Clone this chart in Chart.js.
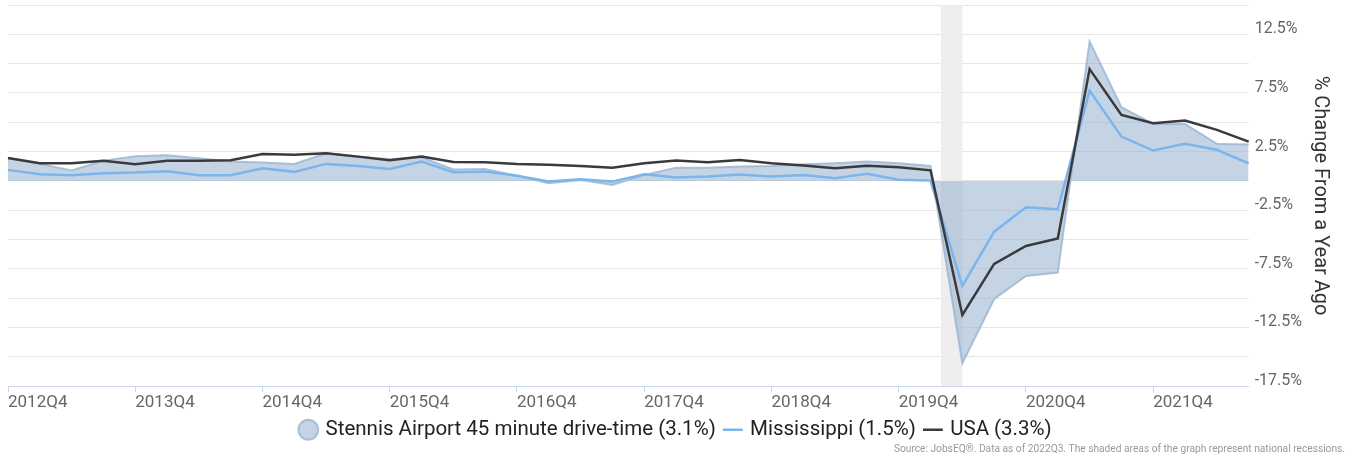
<!DOCTYPE html>
<html>
<head>
<meta charset="utf-8">
<script src="https://cdn.jsdelivr.net/npm/chart.js@4/dist/chart.umd.min.js"></script>
<style>
  html, body { margin: 0; padding: 0; background: #fff; }
  #wrap { width: 1348px; height: 458px; position: relative; }
</style>
</head>
<body>
<div id="wrap"><canvas id="chart-area"></canvas></div>
<script>
// quarters 2012Q4 .. 2022Q3
var quarters = [
  '2012Q4','2013Q1','2013Q2','2013Q3','2013Q4','2014Q1','2014Q2','2014Q3',
  '2014Q4','2015Q1','2015Q2','2015Q3','2015Q4','2016Q1','2016Q2','2016Q3',
  '2016Q4','2017Q1','2017Q2','2017Q3','2017Q4','2018Q1','2018Q2','2018Q3',
  '2018Q4','2019Q1','2019Q2','2019Q3','2019Q4','2020Q1','2020Q2','2020Q3',
  '2020Q4','2021Q1','2021Q2','2021Q3','2021Q4','2022Q1','2022Q2','2022Q3'
];

var stennis = [1.92, 1.45, 0.88, 1.73, 2.11, 2.18, 1.94, 1.65, 1.56, 1.45,
  2.36, 2.07, 1.85, 2.02, 0.98, 1.02, 0.43, -0.2, 0.08, -0.35,
  0.51, 1.13, 1.13, 1.22, 1.28, 1.42, 1.51, 1.65, 1.51, 1.28,
  -15.55, -10.07, -8.11, -7.82, 11.89, 6.29, 4.86, 4.86, 3.16, 3.1];

var mississippi = [0.94, 0.57, 0.48, 0.66, 0.71, 0.83, 0.48, 0.48, 1.08, 0.77,
  1.45, 1.28, 1.02, 1.65, 0.74, 0.79, 0.43, -0.06, 0.15, -0.06,
  0.57, 0.28, 0.37, 0.54, 0.37, 0.51, 0.23, 0.6, 0.09, 0.03,
  -8.96, -4.33, -2.24, -2.41, 7.7, 3.78, 2.59, 3.16, 2.65, 1.5];

var usa = [1.96, 1.51, 1.51, 1.71, 1.42, 1.71, 1.71, 1.76, 2.3, 2.24,
  2.36, 2.07, 1.77, 2.08, 1.62, 1.6, 1.45, 1.37, 1.28, 1.13,
  1.51, 1.73, 1.6, 1.79, 1.51, 1.31, 1.08, 1.3, 1.17, 0.9,
  -11.43, -7.08, -5.55, -4.92, 9.53, 5.63, 4.92, 5.15, 4.35, 3.35];

// recession, in quarter index units
var recessions = [[29.33, 30]];

var seriesNames = [
  'Stennis Airport 45 minute drive-time (3.1%)',
  'Mississippi (1.5%)',
  'USA (3.3%)'
];

var sourceNote = 'Source: JobsEQ®. Data as of 2022Q3. The shaded areas of the graph represent national recessions.';

var recessionBands = {
  id: 'recessionBands',
  beforeDatasetsDraw: function(chart) {
    var ctx = chart.ctx, x = chart.scales.x, area = chart.chartArea;
    ctx.save();
    ctx.fillStyle = '#eeeeee';
    recessions.forEach(function(r) {
      var x1 = x.getPixelForValue(r[0]);
      var x2 = x.getPixelForValue(r[1]);
      ctx.fillRect(x1, area.top, x2 - x1, area.bottom - area.top);
    });
    ctx.restore();
  }
};

// small source line in the bottom right corner
var sourceText = {
  id: 'sourceText',
  afterDraw: function(chart) {
    var ctx = chart.ctx;
    ctx.save();
    ctx.font = '10.2px Roboto';
    ctx.fillStyle = '#999';
    ctx.textAlign = 'right';
    ctx.textBaseline = 'middle';
    ctx.fillText(sourceNote, chart.width - 3, 449);
    ctx.restore();
  }
};

Chart.defaults.font.family = 'Roboto';

var config = {
  type: 'line',
  data: {
    labels: quarters,
    datasets: [{
      label: seriesNames[0],
      data: stennis,
      fill: 'origin',
      backgroundColor: 'rgba(150,176,207,0.55)',
      borderColor: 'rgba(150,176,207,0.75)',
      borderWidth: 2,
      pointRadius: 0,
      pointStyle: 'circle',
      tension: 0,
      order: 3
    }, {
      label: seriesNames[1],
      data: mississippi,
      fill: false,
      borderColor: '#7cb5ec',
      backgroundColor: '#7cb5ec',
      borderWidth: 2.5,
      pointRadius: 0,
      pointStyle: 'line',
      tension: 0,
      order: 2
    }, {
      label: seriesNames[2],
      data: usa,
      fill: false,
      borderColor: '#3a3a3c',
      backgroundColor: '#3a3a3c',
      borderWidth: 2.5,
      pointRadius: 0,
      pointStyle: 'line',
      tension: 0,
      order: 1
    }]
  },
  options: {
    responsive: true,
    maintainAspectRatio: false,
    animation: false,
    layout: { padding: { top: 5, left: 8, right: 3, bottom: 8 } },
    plugins: {
      legend: {
        position: 'bottom',
        labels: {
          usePointStyle: true,
          boxWidth: 14,
          boxHeight: 14,
          padding: 10,
          color: '#222',
          font: { size: 20.5 },
          sort: function(a, b) { return a.datasetIndex - b.datasetIndex; }
        }
      },
      tooltip: { enabled: false }
    },
    scales: {
      x: {
        afterFit: function(s) { s.height -= 3; },
        grid: {
          drawOnChartArea: false,
          drawTicks: true,
          tickLength: 6,
          color: function(c) { return c.index % 4 === 0 ? '#ccd6eb' : 'rgba(0,0,0,0)'; }
        },
        border: { color: '#ccd6eb' },
        ticks: {
          autoSkip: false,
          maxRotation: 0,
          align: 'start',
          padding: 0,
          color: '#666',
          font: { size: 17 },
          callback: function(v, i) { return i % 4 === 0 ? quarters[i] : ''; }
        }
      },
      y: {
        position: 'right',
        min: -17.5,
        max: 15,
        afterFit: function(s) { s.paddingTop = 0; s.paddingBottom = 0; },
        grid: { color: '#e6e6e6', drawTicks: false },
        border: { display: false },
        ticks: {
          stepSize: 2.5,
          padding: 6,
          labelOffset: -5,
          color: '#666',
          font: { size: 16 },
          callback: function(v) {
            return Math.abs(Math.round(v / 2.5)) % 2 === 1 ? v + '%' : '';
          }
        },
        title: {
          display: true,
          text: '% Change From a Year Ago',
          color: '#333',
          font: { size: 20 },
          padding: { top: 13, bottom: 0 }
        }
      }
    }
  },
  plugins: [recessionBands, sourceText]
};

window.onload = function() {
  var ctx = document.getElementById('chart-area').getContext('2d');
  window.myChart = new Chart(ctx, config);
};
</script>
</body>
</html>
